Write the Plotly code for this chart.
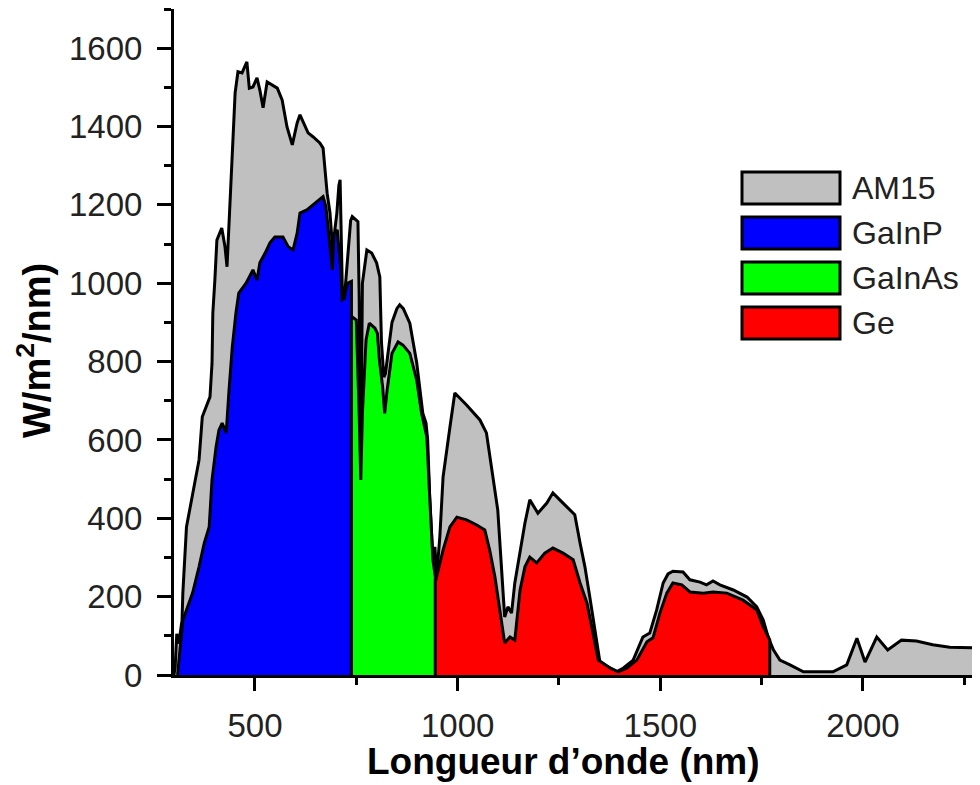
import plotly.graph_objects as go

# ---------------- data ----------------
am15_wl = [300, 303, 307, 312, 320, 322, 331, 346, 362, 370, 384, 389, 394, 396, 401, 406,
           418, 426, 431, 438, 443, 446, 451, 458, 468, 480, 486, 495, 505, 512, 520, 530,
           542, 555, 567, 579, 592, 604, 611, 619, 631, 643, 660, 668, 673, 678, 685, 690,
           693, 697, 702, 707, 710, 713, 716, 722, 728, 736, 740, 754, 757, 761, 765, 776,
           788, 800, 808, 812, 818, 822, 828, 838, 850, 857, 866, 882, 899, 914, 922, 926,
           931, 939, 944, 948, 956, 964, 981, 993, 1022, 1055, 1071, 1087, 1099, 1108, 1116,
           1124, 1133, 1141, 1154, 1166, 1178, 1186, 1198, 1220, 1235, 1252, 1289, 1302, 1314,
           1326, 1339, 1351, 1376, 1392, 1409, 1433, 1457, 1474, 1491, 1507, 1519, 1531, 1556,
           1573, 1598, 1614, 1630, 1647, 1680, 1714, 1738, 1754, 1766, 1779, 1795, 1820, 1853,
           1926, 1960, 1985, 2005, 2034, 2061, 2095, 2132, 2172, 2214, 2300]
am15_val = [0, 20, 105, 80, 140, 209, 378, 465, 549, 659, 694, 710, 796, 924, 1008, 1110,
            1141, 1093, 1042, 1195, 1297, 1384, 1486, 1540, 1537, 1565, 1498, 1501, 1524, 1493, 1448, 1514,
            1506, 1498, 1468, 1399, 1353, 1409, 1430, 1412, 1384, 1374, 1358, 1345, 1289, 1230, 1180, 1110,
            1026, 1136, 1179, 1250, 1264, 1100, 957, 980, 1050, 1160, 1170, 1157, 966, 530, 1000, 1085,
            1077, 1052, 1016, 850, 760, 770, 820, 900, 935, 945, 935, 898, 797, 668, 643, 600,
            455, 294, 327, 250, 352, 505, 633, 720, 689, 651, 618, 506, 421, 276, 148,
            174, 158, 235, 319, 388, 447, 434, 413, 439, 465, 447, 409, 337, 276,
            199, 107, 33, 18, 8, 18, 38, 97, 107, 166, 235, 258, 265, 263,
            243, 237, 230, 240, 230, 217, 199, 174, 140, 97, 64, 38, 26, 8,
            8, 26, 94, 33, 97, 64, 89, 87, 77, 71, 69]

gainp_wl = [309, 313, 320, 322, 331, 346, 362, 375, 387, 394, 404, 411, 419, 429, 436, 444,
            453, 460, 478, 495, 505, 512, 525, 537, 549, 569, 582, 594, 604, 611, 628, 643,
            660, 668, 675, 678, 688, 691, 695, 703, 708, 712, 715, 720, 728, 738]
gainp_val = [0, 40, 110, 140, 166, 209, 276, 337, 378, 498, 582, 625, 643, 618, 728, 837,
             924, 975, 1000, 1034, 1008, 1052, 1077, 1103, 1118, 1118, 1093, 1085, 1128, 1179, 1187, 1200,
             1213, 1221, 1195, 1162, 1060, 1034, 1128, 1136, 1077, 1034, 957, 960, 1000, 1005]

gainas_wl = [738, 740, 750, 757, 761, 765, 774, 782, 796, 802, 807, 815, 820, 826, 838, 853,
             865, 882, 899, 911, 924, 931, 939, 945]
gainas_val = [914, 914, 906, 668, 498, 668, 855, 898, 885, 872, 804, 735, 668, 727, 821, 850,
              842, 821, 753, 668, 608, 455, 294, 250]

ge_wl = [945, 946, 964, 981, 998, 1022, 1047, 1067, 1079, 1092, 1104, 1116, 1129, 1141, 1154,
         1166, 1178, 1195, 1215, 1235, 1260, 1285, 1302, 1319, 1334, 1347, 1376, 1396, 1418,
         1442, 1467, 1482, 1499, 1516, 1531, 1553, 1573, 1606, 1630, 1664, 1704, 1738, 1754,
         1766, 1770]
ge_val = [242, 242, 319, 378, 403, 396, 383, 370, 319, 250, 166, 82, 97, 89, 217,
          276, 301, 286, 311, 324, 311, 294, 235, 184, 107, 38, 18, 8, 18,
          38, 85, 95, 158, 209, 235, 230, 212, 209, 212, 209, 191, 166, 123,
          97, 90]

series_names = ["AM15", "GaInP", "GaInAs", "Ge"]
series_colors = ["#c0c0c0", "#0000ff", "#00ff00", "#ff0000"]
x_ticks = [500, 1000, 1500, 2000]
y_ticks = [0, 200, 400, 600, 800, 1000, 1200, 1400, 1600]

# ---------------- figure ----------------
# the page has an 8px body margin; size the figure to fit the 980x785 window
OFF = 8
W, H = 980 - OFF, 785 - OFF
L, R, T, B = 174 - OFF, 0, 9 - OFF, 110
PW, PH = W - L - R, H - T - B

def px_x(sx):
    return (sx - OFF - L) / PW

def px_y(sy):
    return (H - B - (sy - OFF)) / PH

fig = go.Figure()

def closed(wl, val):
    xs = [wl[0]] + list(wl) + [wl[-1]]
    ys = [0] + list(val) + [0]
    return xs, ys

series = [(am15_wl, am15_val), (gainp_wl, gainp_val), (gainas_wl, gainas_val), (ge_wl, ge_val)]
for (wl, val), name, col in zip(series, series_names, series_colors):
    xs, ys = closed(wl, val)
    fig.add_trace(go.Scatter(x=xs, y=ys, mode="lines", name=name, fill="tozeroy",
                             fillcolor=col, line=dict(color="black", width=3),
                             showlegend=False, hoverinfo="skip"))

tickfont = dict(family="Liberation Sans, Arial, sans-serif", size=33, color="#222222")

fig.update_xaxes(range=[300.2, 2288.7], showline=True, linecolor="black", linewidth=3,
                 ticks="outside", ticklen=13, tickwidth=3, tickcolor="black",
                 tickvals=x_ticks, tickfont=tickfont, showgrid=False, zeroline=False,
                 ticklabelstandoff=6,
                 minor=dict(dtick=250, tick0=0, ticks="outside", ticklen=7, tickwidth=2.5,
                            tickcolor="black", showgrid=False))
fig.update_yaxes(range=[0, 1700], showline=True, linecolor="black", linewidth=3,
                 ticks="outside", ticklen=14, tickwidth=3, tickcolor="black",
                 tickvals=y_ticks, tickfont=tickfont, showgrid=False, zeroline=False,
                 ticklabelstandoff=8,
                 minor=dict(dtick=100, tick0=0, ticks="outside", ticklen=7, tickwidth=2.5,
                            tickcolor="black", showgrid=False))

titlefont = dict(family="Liberation Sans, Arial, sans-serif", size=37, color="black")
annotations = [
    dict(text="<b>Longueur d’onde (nm)</b>", xref="paper", yref="paper",
         x=px_x(563), y=px_y(761), xanchor="center", yanchor="middle",
         showarrow=False, font=titlefont),
    dict(text="<b>W/m<sup>2</sup>/nm)</b>", xref="paper", yref="paper",
         x=px_x(34), y=px_y(351), xanchor="center", yanchor="middle", textangle=-90,
         showarrow=False, font=dict(family="Liberation Sans, Arial, sans-serif", size=38,
                                    color="black")),
]

shapes = []
legfont = dict(family="Liberation Sans, Arial, sans-serif", size=32, color="#222222")
for i, (name, col) in enumerate(zip(series_names, series_colors)):
    top = 172 + 45 * i
    shapes.append(dict(type="rect", xref="paper", yref="paper",
                       x0=px_x(742), x1=px_x(840), y0=px_y(top + 32), y1=px_y(top),
                       fillcolor=col, line=dict(color="black", width=3), layer="above"))
    annotations.append(dict(text=name, xref="paper", yref="paper",
                            x=px_x(850), y=px_y(top + 16), xanchor="left", yanchor="middle",
                            showarrow=False, font=legfont))

fig.update_layout(width=W, height=H, margin=dict(l=L, r=R, t=T, b=B, pad=0),
                  plot_bgcolor="white", paper_bgcolor="white",
                  annotations=annotations, shapes=shapes, showlegend=False)

fig.write_html("out.html")
